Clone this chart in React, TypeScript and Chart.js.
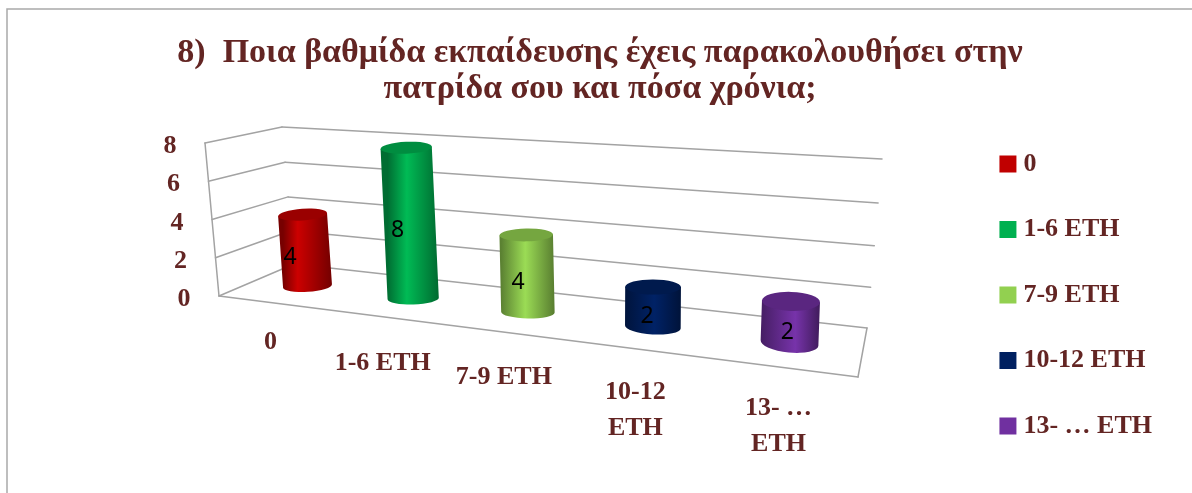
import React, { useEffect, useRef } from "react";
import { Chart, registerables } from "chart.js";

Chart.register(...registerables);

const titleLines = ["8)  Ποια βαθμίδα εκπαίδευσης έχεις παρακολουθήσει στην", "πατρίδα σου και πόσα χρόνια;"];
const xTickLabels = [["0"], ["1-6 ETH"], ["7-9 ETH"], ["10-12", "ETH"], ["13- …", "ETH"]];
const legendLabels = ["0", "1-6 ETH", "7-9 ETH", "10-12 ETH", "13- … ETH"];
const values = [4, 8, 4, 2, 2];
const colors = ["#C00000", "#00B050", "#92D050", "#002060", "#7030A0"];

const INK = "#632523";
const FRAME = "#a9a9a9";
const GRID = "#a3a3a3";
const SERIF = "'Liberation Serif', serif";
const AXIS_MAX = 8;

type P = [number, number];

// Square-to-quad projective map; corners: (0,0), (1,0), (1,1), (0,1).
function homography(p0: P, p1: P, p2: P, p3: P) {
  const dx1 = p1[0] - p2[0], dx2 = p3[0] - p2[0], sx = p0[0] - p1[0] + p2[0] - p3[0];
  const dy1 = p1[1] - p2[1], dy2 = p3[1] - p2[1], sy = p0[1] - p1[1] + p2[1] - p3[1];
  const den = dx1 * dy2 - dx2 * dy1;
  const g = (sx * dy2 - dx2 * sy) / den;
  const h = (dx1 * sy - sx * dy1) / den;
  const a = p1[0] - p0[0] + g * p1[0], b = p3[0] - p0[0] + h * p3[0], c = p0[0];
  const d = p1[1] - p0[1] + g * p1[1], e = p3[1] - p0[1] + h * p3[1], f = p0[1];
  return (u: number, v: number): P => {
    const w = g * u + h * v + 1;
    return [(a * u + b * v + c) / w, (d * u + e * v + f) / w];
  };
}

// Perspective planes of the 3-D look
const barPlane = homography([307.5, 286], [789.5, 343], [795.5, 172], [297.5, 141]);
const backWall = homography([294, 264], [867, 328], [882, 159], [282, 127]);
const FRONT_BOTTOM_LEFT: P = [219, 296];
const FRONT_TOP_LEFT: P = [205, 143];
const FRONT_BOTTOM_RIGHT: P = [858, 377];

function shade(hex: string, k: number) {
  const n = parseInt(hex.slice(1), 16);
  const ch = (s: number) => Math.max(0, Math.min(255, Math.round(((n >> s) & 255) * k)));
  return `rgb(${ch(16)},${ch(8)},${ch(0)})`;
}

function line(ctx: CanvasRenderingContext2D, a: P, b: P) {
  ctx.beginPath();
  ctx.moveTo(a[0], a[1]);
  ctx.lineTo(b[0], b[1]);
  ctx.stroke();
}

const perspectivePlugin = {
  id: "perspective",
  beforeDraw(chart: any) {
    const { ctx, width, height } = chart;
    ctx.save();
    ctx.strokeStyle = FRAME;
    ctx.lineWidth = 1.5;
    ctx.beginPath();
    ctx.moveTo(7, height);
    ctx.lineTo(7, 9);
    ctx.lineTo(width, 9);
    ctx.stroke();
    ctx.restore();
  },
  beforeDatasetsDraw(chart: any) {
    const { ctx } = chart;
    const yScale = chart.scales.y;
    ctx.save();
    ctx.strokeStyle = GRID;
    ctx.lineWidth = 1.5;
    ctx.lineCap = "round";
    yScale.ticks.forEach((t: any) => {
      const v = t.value / AXIS_MAX;
      const front: P = [
        FRONT_BOTTOM_LEFT[0] + (FRONT_TOP_LEFT[0] - FRONT_BOTTOM_LEFT[0]) * v,
        FRONT_BOTTOM_LEFT[1] + (FRONT_TOP_LEFT[1] - FRONT_BOTTOM_LEFT[1]) * v,
      ];
      const bl = backWall(0, v);
      const br = backWall(1, v);
      line(ctx, front, bl);
      line(ctx, bl, br);
      ctx.fillStyle = INK;
      ctx.font = `bold 26px ${SERIF}`;
      ctx.textAlign = "right";
      ctx.textBaseline = "middle";
      ctx.fillText(String(t.label), front[0] - 28.5, front[1] + 3.5);
    });
    line(ctx, FRONT_BOTTOM_LEFT, FRONT_TOP_LEFT);
    line(ctx, FRONT_BOTTOM_LEFT, FRONT_BOTTOM_RIGHT);
    line(ctx, FRONT_BOTTOM_RIGHT, backWall(1, 0));
    ctx.restore();
  },
  beforeDatasetDraw(chart: any, args: any) {
    const { ctx, chartArea } = chart;
    const xScale = chart.scales.x;
    const yScale = chart.scales.y;
    const toPlane = (px: number, py: number): P => {
      const u = ((px - chartArea.left) / chartArea.width - 0.1) / 0.8;
      const v = (yScale.bottom - py) / (yScale.bottom - yScale.top);
      return barPlane(u, v);
    };
    const labels = xScale.getLabels();
    args.meta.data.forEach((el: any, i: number) => {
      const col = colors[i];
      const u = Math.max(0, ((el.x - chartArea.left) / chartArea.width - 0.1) / 0.8);
      const top = toPlane(el.x, el.y);
      const bot = toPlane(el.x, el.base);
      const rx = 24.5 + 4.5 * u;
      const ry = 5.8 + 3.7 * Math.pow(u, 2.5);
      const tiltT = -0.07 + 0.1 * u;
      const tiltB = -0.07 + 0.17 * u;
      const grad = ctx.createLinearGradient(bot[0] - rx, 0, bot[0] + rx, 0);
      const peak = 0.3 + 0.3 * u;
      grad.addColorStop(0, shade(col, 0.62));
      grad.addColorStop(peak, shade(col, 1.06));
      grad.addColorStop(1, shade(col, 0.6));
      ctx.save();
      ctx.fillStyle = grad;
      ctx.beginPath();
      ctx.moveTo(top[0] - rx * Math.cos(tiltT), top[1] - rx * Math.sin(tiltT));
      ctx.lineTo(bot[0] - rx * Math.cos(tiltB), bot[1] - rx * Math.sin(tiltB));
      ctx.ellipse(bot[0], bot[1], rx, ry, tiltB, Math.PI, 0, true);
      ctx.lineTo(top[0] + rx * Math.cos(tiltT), top[1] + rx * Math.sin(tiltT));
      ctx.closePath();
      ctx.fill();
      ctx.fillStyle = shade(col, 0.8);
      ctx.beginPath();
      ctx.ellipse(top[0], top[1], rx, ry, tiltT, 0, Math.PI * 2);
      ctx.fill();

      ctx.fillStyle = "#000";
      ctx.font = "23px 'Noto Sans', sans-serif";
      ctx.textAlign = "center";
      ctx.textBaseline = "middle";
      ctx.fillText(
        String(values[i]),
        (top[0] + bot[0]) / 2 - 15 + 12 * u,
        (top[1] + bot[1]) / 2 + 7 + 3 * u
      );

      const tick = labels[i];
      const lines = Array.isArray(tick) ? tick : [tick];
      const tx = bot[0] - 37 + 26 * u;
      const ty = bot[1] + 65 - 9 * (1 - Math.min(1, u * 4));
      ctx.fillStyle = INK;
      ctx.font = `bold 26px ${SERIF}`;
      lines.forEach((s: string, k: number) => ctx.fillText(s, tx, ty + k * 36));
      ctx.restore();
    });
    return false;
  },
};

export default function App() {
  const ref = useRef<HTMLCanvasElement>(null);
  useEffect(() => {
    const chart = new Chart(ref.current as HTMLCanvasElement, {
      type: "bar",
      data: {
        labels: xTickLabels as any,
        datasets: [{ data: values, backgroundColor: colors, barPercentage: 0.5, categoryPercentage: 1 }],
      },
      options: {
        responsive: false,
        animation: false,
        layout: { padding: { left: 38, right: 30, top: 35, bottom: 5 } },
        scales: {
          x: { display: false },
          y: { display: false, min: 0, max: AXIS_MAX, ticks: { stepSize: 2 } },
        },
        plugins: {
          tooltip: { enabled: false },
          title: {
            display: true,
            text: titleLines,
            color: INK,
            font: { family: SERIF, size: 34, weight: "bold", lineHeight: 36 / 34 },
            padding: { top: 0, bottom: 4.5 },
          },
          legend: {
            display: true,
            position: "right",
            align: "start",
            fullSize: false,
            onClick: () => {},
            labels: {
              boxWidth: 5,
              boxHeight: 5,
              padding: 39.5,
              color: INK,
              font: { family: SERIF, size: 26, weight: "bold" },
              generateLabels: () =>
                legendLabels.map((text, i) => ({
                  text,
                  fillStyle: colors[i],
                  strokeStyle: colors[i],
                  lineWidth: 12,
                  fontColor: INK,
                  hidden: false,
                  index: i,
                })),
            },
          },
        },
      } as any,
      plugins: [perspectivePlugin as any],
    });
    return () => chart.destroy();
  }, []);
  return (
    <div style={{ position: "absolute", left: 0, top: 0, width: 1192, height: 493, background: "#fff" }}>
      <canvas ref={ref} width={1192} height={493} style={{ display: "block" }} />
    </div>
  );
}
